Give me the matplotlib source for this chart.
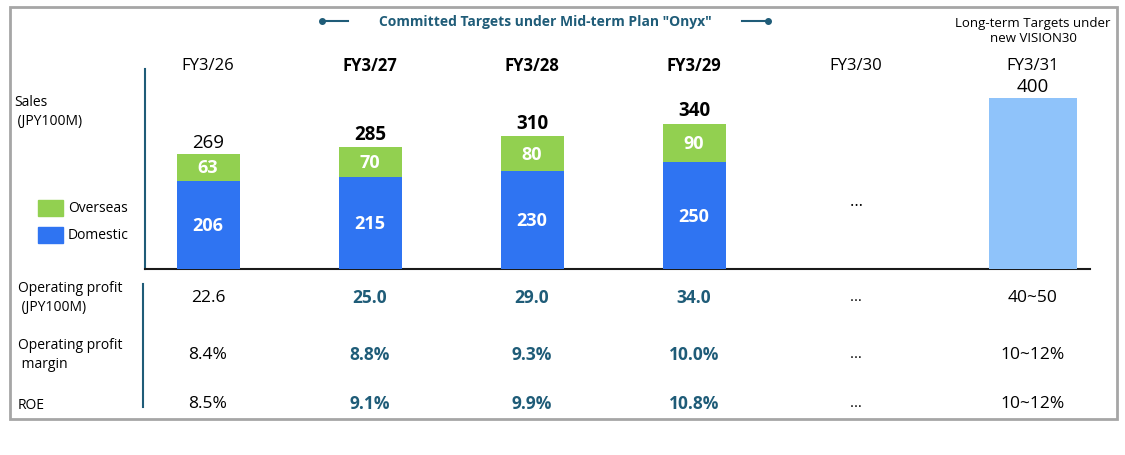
import matplotlib
matplotlib.use("Agg")
import matplotlib.pyplot as plt
from matplotlib.patches import Rectangle

years = ["FY3/26", "FY3/27", "FY3/28", "FY3/29", "FY3/30", "FY3/31"]
domestic = [206, 215, 230, 250]
overseas = [63, 70, 80, 90]
totals = [269, 285, 310, 340]
longterm_total = 400
op_profit = ["22.6", "25.0", "29.0", "34.0", "…", "40~50"]
op_margin = ["8.4%", "8.8%", "9.3%", "10.0%", "…", "10~12%"]
roe = ["8.5%", "9.1%", "9.9%", "10.8%", "…", "10~12%"]
bold = [False, True, True, True, False, False]

plt.rcParams['font.family'] = ['Open Sans', 'DejaVu Sans']
W, H = 1125, 456
fig = plt.figure(figsize=(W/100, H/100), dpi=100)
ov = fig.add_axes([0, 0, 1, 1]); ov.set_xlim(0, W); ov.set_ylim(H, 0); ov.axis('off')
TEAL = "#1F5C78"
ov.add_patch(Rectangle((10, 8), 1107, 412, fill=False, ec="#A6A6A6", lw=2))

xs = [208, 370, 532, 694, 856, 1033]
ax = fig.add_axes([0, (H-270)/H, 1, 188/H])
ax.set_xlim(0, W); ax.set_ylim(0, 188/0.4275); ax.axis('off')
bw = 63
ax.bar(xs[:4], domestic, width=bw, color="#2F74F2")
ax.bar(xs[:4], overseas, bottom=domestic, width=bw, color="#92D050")
ax.bar(xs[5], longterm_total, width=88, color="#8FC3FA")
for i in range(4):
    ax.text(xs[i], domestic[i]/2, str(domestic[i]), ha='center', va='center', color='white', fontsize=13, fontweight='bold')
    ax.text(xs[i], domestic[i]+overseas[i]/2, str(overseas[i]), ha='center', va='center', color='white', fontsize=13, fontweight='bold')
    ax.text(xs[i], totals[i]+8, str(totals[i]), ha='center', va='bottom', color='black', fontsize=13.5, fontweight='bold' if bold[i] else 'normal')
ax.text(xs[5], longterm_total+6, str(longterm_total), ha='center', va='bottom', fontsize=13.5)
ax.text(xs[4], 160, "…", ha='center', va='center', fontsize=12)

for i, y in enumerate(years):
    ov.text(xs[i], 66, y, ha='center', va='center', fontsize=12, fontweight='bold' if bold[i] else 'normal')

ov.plot([145, 145], [70, 270], color=TEAL, lw=1.5)
ov.plot([145, 1090], [270, 270], color="#1a1a1a", lw=1.5)
ov.plot([143, 143], [285, 408], color=TEAL, lw=1.5)

ov.text(14, 112, "Sales\n (JPY100M)", ha='left', va='center', fontsize=10, linespacing=1.4)
ov.add_patch(Rectangle((38, 201), 25, 16, color="#92D050"))
ov.add_patch(Rectangle((38, 228), 25, 16, color="#2F74F2"))
ov.text(68, 209, "Overseas", va='center', fontsize=10)
ov.text(68, 236, "Domestic", va='center', fontsize=10)

ov.text(545, 22, 'Committed Targets under Mid-term Plan "Onyx"', ha='center', va='center', fontsize=10, fontweight='bold', color=TEAL)
ov.plot([322, 348], [22, 22], color=TEAL, lw=1.5); ov.plot([322], [22], 'o', color=TEAL, ms=4)
ov.plot([742, 768], [22, 22], color=TEAL, lw=1.5); ov.plot([768], [22], 'o', color=TEAL, ms=4)
ov.text(1033, 31, "Long-term Targets under\nnew VISION30", ha='center', va='center', fontsize=9.5, linespacing=1.3)

rows = [("Operating profit\n (JPY100M)", op_profit, 298), ("Operating profit\n margin", op_margin, 355), ("ROE", roe, 404)]
for label, vals, y in rows:
    ov.text(18, y + (0 if '\n' in label else 2), label, ha='left', va='center', fontsize=10, linespacing=1.3)
    for i, v in enumerate(vals):
        b = bold[i]
        ov.text(xs[i], y, v, ha='center', va='center', fontsize=12.5 if v != "…" else 11,
                fontweight='bold' if b else 'normal', color=TEAL if b else 'black')

fig.savefig("out.png", dpi=100)
